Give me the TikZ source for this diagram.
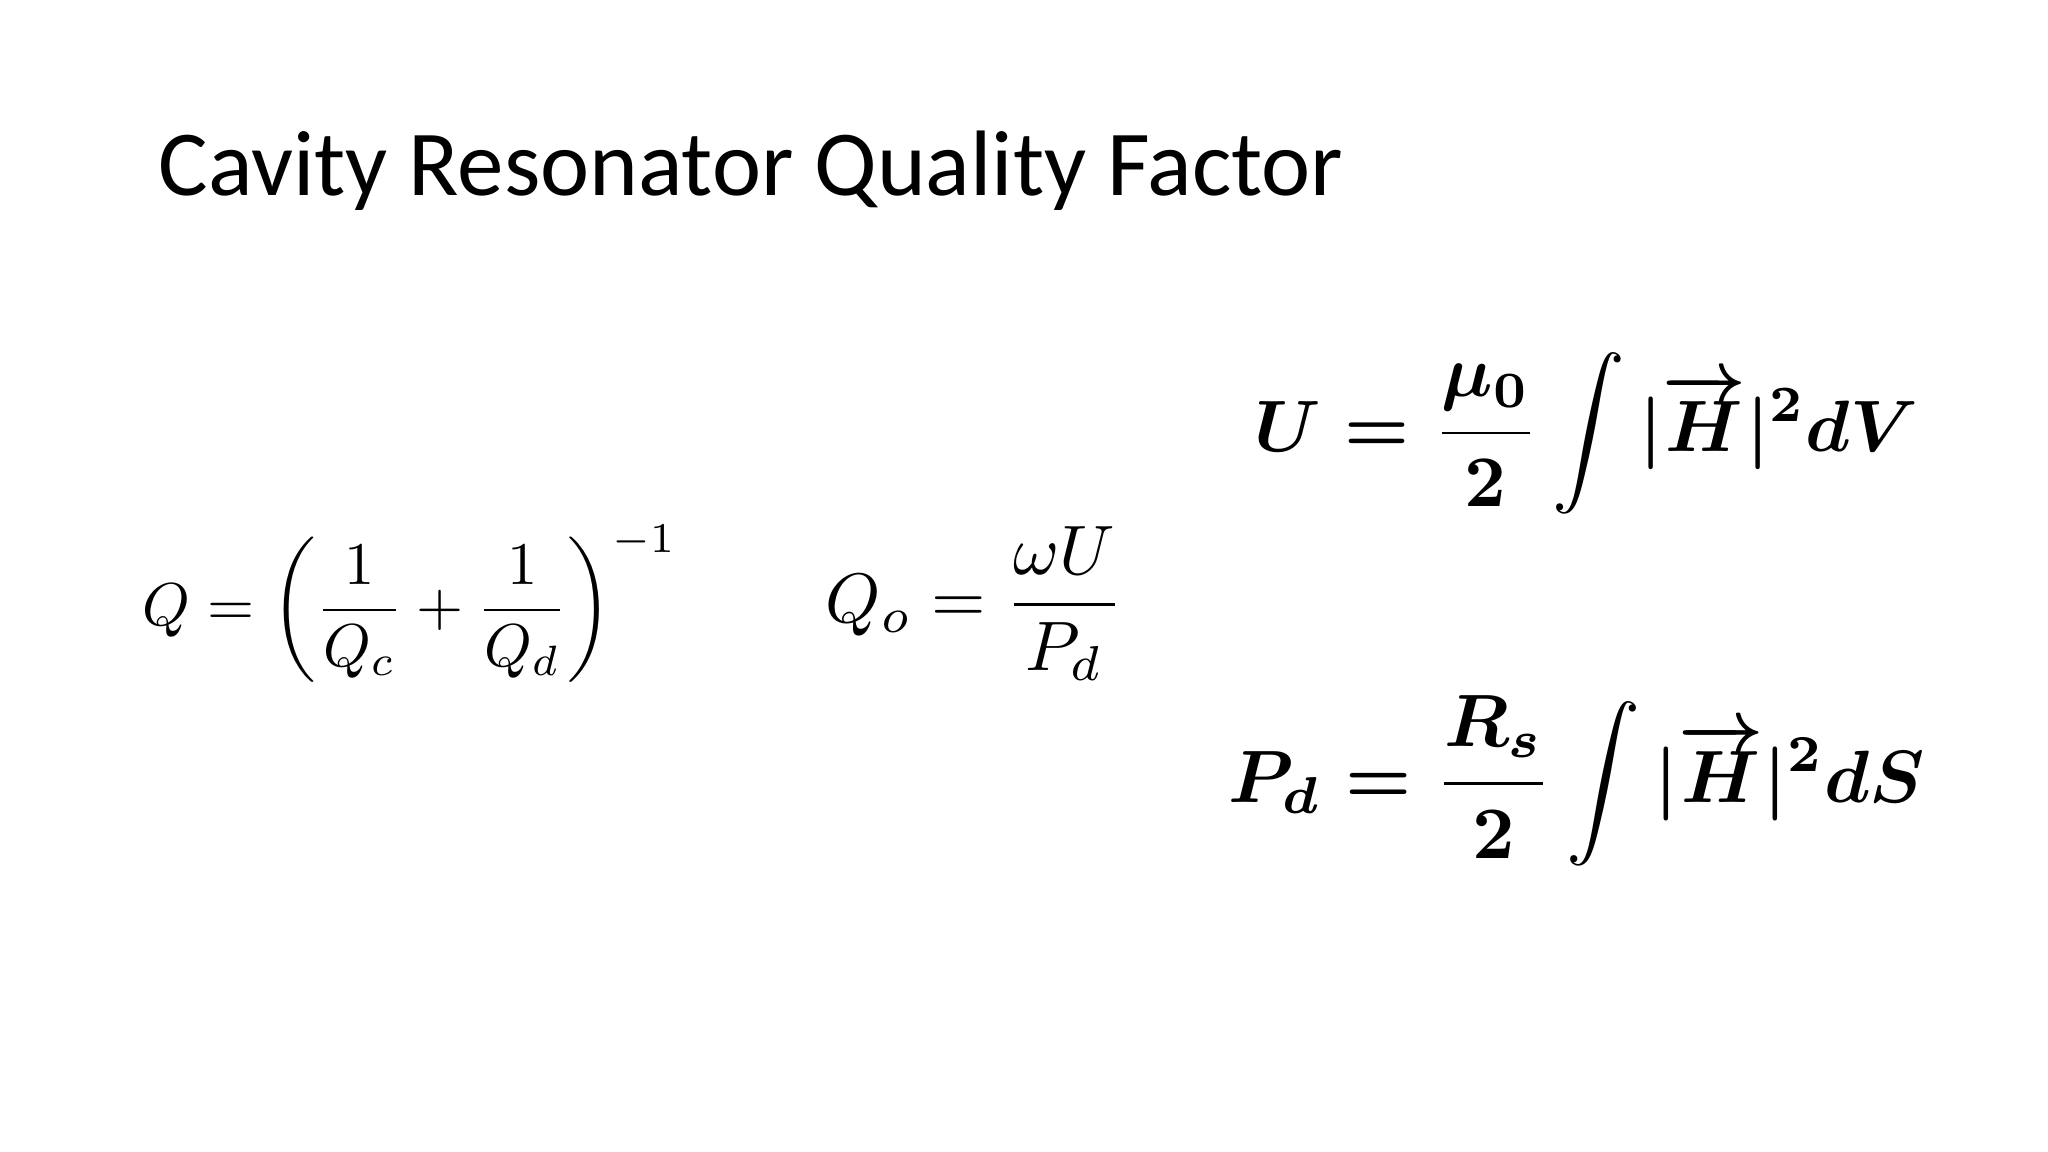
\documentclass[tikz,border=0pt]{standalone}
\usepackage{amsmath}
\usepackage{fontspec}
\setmainfont{Carlito}
\usepackage{graphicx}
\begin{document}
\begin{tikzpicture}[x=0.01cm,y=-0.01cm]
\useasboundingbox (0,0) rectangle (2048,1152);
\tikzset{eq/.style={inner sep=0pt}}
\node[eq,anchor=west] (title) at (158,171) {\resizebox{11.84cm}{!}{\fontsize{30}{36}\selectfont Cavity Resonator Quality Factor}};
\node[eq,anchor=west] (q) at (142,604) {\resizebox{5.34cm}{!}{$Q=\left(\dfrac{1}{Q_c}+\dfrac{1}{Q_d}\right)^{-1}$}};
\node[eq,anchor=west] (qo) at (825,604) {\resizebox{2.98cm}{!}{$\boldmath Q_o=\dfrac{\omega U}{P_d}$}};
\node[eq,anchor=west] (u) at (1254,433) {\resizebox{6.63cm}{!}{\boldmath$U=\dfrac{\mu_0}{2}\displaystyle\int|\overrightarrow{H}|^2dV$}};
\node[eq,anchor=west] (p) at (1228,781) {\resizebox{6.96cm}{!}{\boldmath$P_d=\dfrac{R_s}{2}\displaystyle\int|\overrightarrow{H}|^2dS$}};
\end{tikzpicture}
\end{document}
